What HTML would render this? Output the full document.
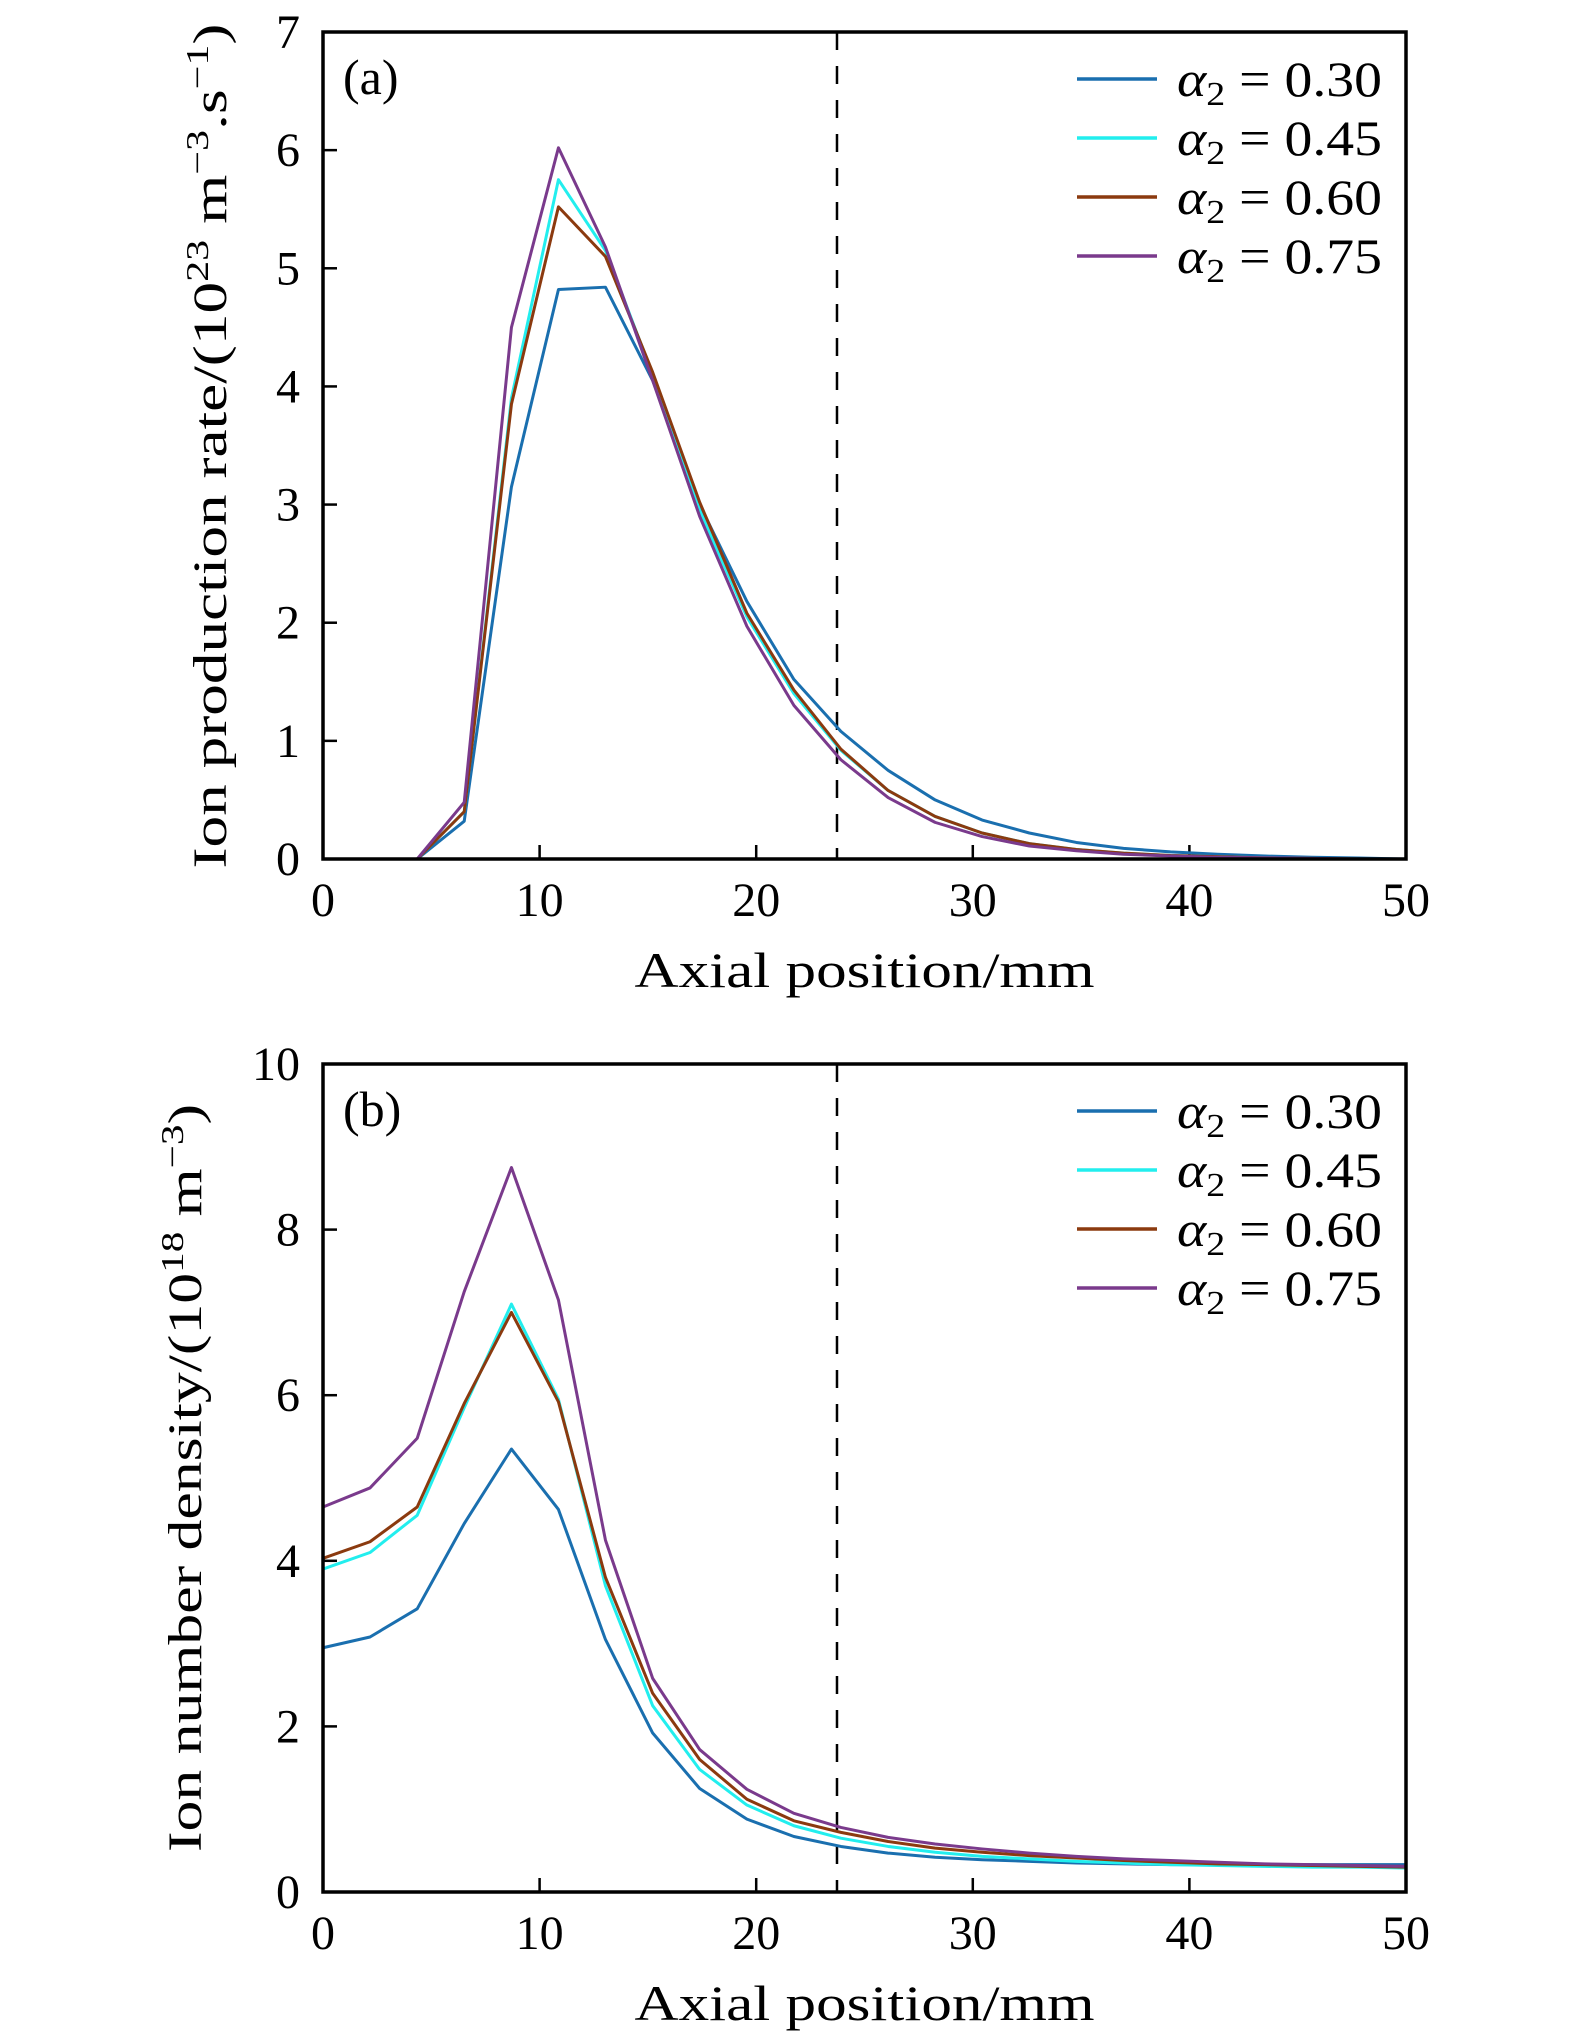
<!DOCTYPE html>
<html><head><meta charset="utf-8"><style>
html,body{margin:0;padding:0;background:#fff}
svg{display:block}
text{font-family:"Liberation Serif","DejaVu Serif",serif;fill:#000}
</style></head><body>
<svg id="fig" width="1575" height="2037" viewBox="0 0 1575 2037" xmlns="http://www.w3.org/2000/svg"></svg>
<script>
const xPos = [0,2.17,4.35,6.52,8.70,10.87,13.04,15.22,17.39,19.57,21.74,23.91,26.09,28.26,30.43,32.61,34.78,36.96,39.13,41.30,43.48,45.65,47.83,50];
const seriesNames = ["α2 = 0.30","α2 = 0.45","α2 = 0.60","α2 = 0.75"];
const seriesLabels = ["0.30","0.45","0.60","0.75"];
const rateA030 = [0,0,0,0.32,3.15,4.82,4.84,4.05,3.0,2.18,1.52,1.08,0.75,0.5,0.33,0.22,0.14,0.09,0.06,0.04,0.025,0.015,0.008,0];
const rateA045 = [0,0,0,0.4,3.9,5.75,5.15,4.1,2.95,2.05,1.4,0.92,0.58,0.36,0.22,0.13,0.08,0.05,0.03,0.02,0.01,0.005,0,0];
const rateA060 = [0,0,0,0.4,3.85,5.52,5.1,4.12,3.02,2.08,1.43,0.93,0.58,0.36,0.22,0.13,0.08,0.05,0.03,0.02,0.01,0.005,0,0];
const rateA075 = [0,0,0,0.48,4.5,6.02,5.18,4.05,2.9,1.97,1.3,0.84,0.52,0.31,0.19,0.11,0.07,0.04,0.025,0.015,0.01,0.005,0,0];
const densB030 = [2.95,3.08,3.42,4.45,5.35,4.62,3.05,1.92,1.25,0.88,0.67,0.55,0.47,0.42,0.39,0.37,0.35,0.34,0.33,0.33,0.33,0.33,0.33,0.33];
const densB045 = [3.9,4.1,4.55,5.85,7.1,5.95,3.7,2.25,1.48,1.05,0.8,0.65,0.55,0.48,0.43,0.4,0.37,0.35,0.33,0.32,0.31,0.3,0.3,0.29];
const densB060 = [4.03,4.23,4.65,5.9,7.0,5.92,3.8,2.4,1.6,1.12,0.86,0.72,0.61,0.53,0.48,0.44,0.41,0.38,0.36,0.34,0.33,0.32,0.31,0.3];
const densB075 = [4.65,4.88,5.48,7.25,8.75,7.15,4.25,2.58,1.72,1.24,0.95,0.78,0.66,0.58,0.52,0.47,0.43,0.4,0.38,0.36,0.34,0.33,0.32,0.31];
const xTicks = [0,10,20,30,40,50];
const yTicksA = [0,1,2,3,4,5,6,7];
const yTicksB = [0,2,4,6,8,10];
const dashedX = 23.73;
const colors = ["#1a6faf","#22eeee","#8b3a0f","#7a3a8c"];

const NS="http://www.w3.org/2000/svg";
const svg=document.getElementById('fig');
function mk(tag,attrs,parent){const e=document.createElementNS(NS,tag);for(const k in attrs)e.setAttribute(k,attrs[k]);(parent||svg).appendChild(e);return e;}

function panel(id,top,bottom,ymax,yTicks,series,tag,ylab,ylabX,ylabLen,ylabCY){
  const L=323,R=1406;
  const g=mk('g',{});
  
  
  const sx=v=>L+(v/50)*(R-L);
  const sy=v=>bottom-(v/ymax)*(bottom-top);
  xTicks.forEach(t=>{
    const tk=mk('line',{x1:sx(t),x2:sx(t),y1:bottom,y2:bottom-14,stroke:'#000','stroke-width':2.5},g);
    
    
    const tl=mk('text',{x:sx(t),y:bottom+57,'font-size':48,'text-anchor':'middle'},g);
    tl.textContent=t;
    
    
  });
  yTicks.forEach(t=>{
    const tk=mk('line',{x1:L,x2:L+14,y1:sy(t),y2:sy(t),stroke:'#000','stroke-width':2.5},g);
    
    
    const tl=mk('text',{x:300,y:sy(t)+16,'font-size':48,'text-anchor':'end'},g);
    tl.textContent=t;
    
    
  });
  const dl=mk('line',{x1:sx(dashedX),x2:sx(dashedX),y1:top,y2:bottom,stroke:'#000','stroke-width':2.5,'stroke-dasharray':'18 16'},g);
  
  
  series.forEach((s,i)=>{
    const p=mk('polyline',{points:s.map((v,j)=>sx(xPos[j])+','+sy(v)).join(' '),fill:'none',stroke:colors[i],'stroke-width':3,'stroke-linejoin':'round'},g);
    
    
  });
  const fr=mk('rect',{x:L,y:top,width:R-L,height:bottom-top,fill:'none',stroke:'#000','stroke-width':3.5},g);
  
  
  const tg=mk('text',{x:343,y:top+62,'font-size':50},g);
  tg.textContent=tag;
  
  
  seriesLabels.forEach((lab,i)=>{
    const y=top+47+i*59;
    const ll=mk('line',{x1:1077,x2:1157,y1:y,y2:y,stroke:colors[i],'stroke-width':3.5},g);
    
    
    const lt=mk('text',{x:1177,y:y+17,'font-size':50,textLength:205,lengthAdjust:'spacingAndGlyphs'},g);
    
    
    const a=mk('tspan',{'font-style':'italic'},lt);a.textContent='α';
    const sb=mk('tspan',{'font-size':34,dy:9},lt);sb.textContent='2';
    const rest=mk('tspan',{dy:-9},lt);rest.textContent=' = '+lab;
  });
  const xl=mk('text',{x:(L+R)/2,y:bottom+128,'font-size':50,'text-anchor':'middle',textLength:460,lengthAdjust:'spacingAndGlyphs'},g);
  xl.textContent='Axial position/mm';
  
  
  const yl=mk('text',{x:0,y:0,'font-size':48,'text-anchor':'middle',textLength:ylabLen,lengthAdjust:'spacingAndGlyphs',transform:'translate('+(ylabX+16)+','+ylabCY+') rotate(-90)'},g);
  
  
  ylab.forEach(part=>{const t=mk('tspan',part.sup?{'font-size':32,dy:-18}:{dy:part.down||0},yl);t.textContent=part.t;});
}
panel('a',32,859,7,yTicksA,[rateA030,rateA045,rateA060,rateA075],'(a)',
  [{t:'Ion production rate/(10'},{t:'23',sup:1},{t:' m',down:18},{t:'−3',sup:1},{t:'.s',down:18},{t:'−1',sup:1},{t:')',down:18}],210,845,446);
panel('b',1064,1892,10,yTicksB,[densB030,densB045,densB060,densB075],'(b)',
  [{t:'Ion number density/(10'},{t:'18',sup:1},{t:' m',down:18},{t:'−3',sup:1},{t:')',down:18}],185,748,1478);
</script>
</body></html>
